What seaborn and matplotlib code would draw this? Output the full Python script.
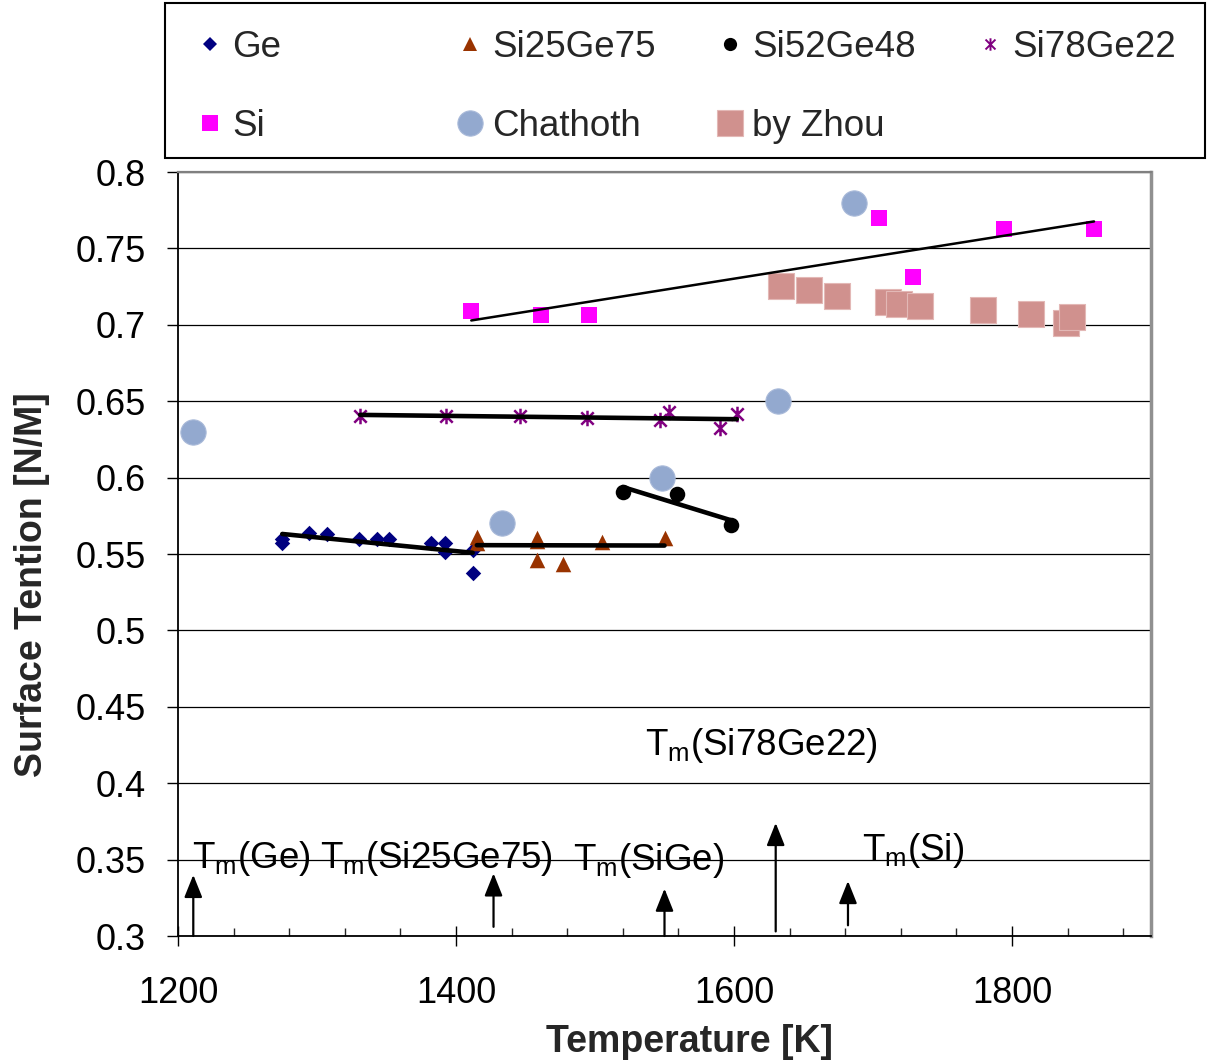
import numpy as np
import pandas as pd
import matplotlib
matplotlib.use("Agg")
import matplotlib.pyplot as plt
import seaborn as sns
from matplotlib.path import Path
from matplotlib.lines import Line2D
from matplotlib.patches import Rectangle

# ---------------- data ----------------
ge_T = [1275, 1275, 1294, 1307, 1330, 1343, 1352, 1382, 1392, 1392, 1412, 1412]
ge_s = [0.560, 0.557, 0.5635, 0.563, 0.5597, 0.5597, 0.5597, 0.5575, 0.5575, 0.5515, 0.5528, 0.5375]

s25_T = [1415, 1415, 1458, 1458, 1458, 1477, 1505, 1550]
s25_s = [0.5614, 0.5575, 0.5605, 0.5585, 0.546, 0.5433, 0.558, 0.5603]

s52_T = [1520, 1559, 1598]
s52_s = [0.5908, 0.589, 0.569]

s78_T = [1331, 1393, 1446, 1494, 1547, 1553, 1590, 1602]
s78_s = [0.6405, 0.6405, 0.6405, 0.6388, 0.6377, 0.6431, 0.6322, 0.6414]

si_T = [1411, 1461, 1496, 1704, 1729, 1794, 1859]
si_s = [0.709, 0.7065, 0.7065, 0.770, 0.731, 0.7625, 0.7625]

cha_T = [1211, 1433, 1548, 1632, 1686]
cha_s = [0.630, 0.570, 0.600, 0.650, 0.780]

zhou_T = [1634, 1654, 1674, 1711, 1719, 1734, 1779, 1814, 1839, 1843]
zhou_s = [0.7256, 0.7228, 0.7188, 0.7151, 0.7136, 0.7125, 0.7097, 0.7071, 0.701, 0.7049]

series_names = ["Ge", "Si25Ge75", "Si52Ge48", "Si78Ge22", "Si", "Chathoth", "by Zhou"]

# melting point arrows: x, start y, end y
arrow_x = [1211, 1427, 1550, 1630, 1682]
arrow_y0 = [0.300, 0.306, 0.300, 0.303, 0.307]
arrow_y1 = [0.340, 0.341, 0.331, 0.374, 0.336]

# melting point labels
label_texts = [r"T$_{\mathrm{m}}$(Ge)", r"T$_{\mathrm{m}}$(Si25Ge75)", r"T$_{\mathrm{m}}$(SiGe)",
               r"T$_{\mathrm{m}}$(Si)", r"T$_{\mathrm{m}}$(Si78Ge22)"]
label_x = [1210, 1302, 1484, 1692, 1536]
label_y = [0.3445, 0.3445, 0.3435, 0.3497, 0.4185]

x_label = "Temperature [K]"
y_label = "Surface Tention [N/M]"

# ---------------- style ----------------
sns.set_theme(style="white")
plt.rcParams["font.family"] = ["Liberation Sans", "DejaVu Sans"]
plt.rcParams["mathtext.fontset"] = "custom"
plt.rcParams["mathtext.rm"] = "Liberation Sans"
plt.rcParams["mathtext.it"] = "Liberation Sans:italic"
plt.rcParams["mathtext.bf"] = "Liberation Sans:bold"

W, H = 1207, 1064
fig = plt.figure(figsize=(W / 100, H / 100), dpi=100)
ax = fig.add_axes([178 / W, 1 - 936 / H, (1151 - 178) / W, (936 - 172) / H])

star = Path([(0, -1), (0, 1), (-0.8, -0.8), (0.8, 0.8), (-0.8, 0.8), (0.8, -0.8)],
            [Path.MOVETO, Path.LINETO] * 3)

c_ge = "#000080"
c_25 = "#993300"
c_52 = "#000000"
c_78 = "#800080"
c_si = "#FF00FF"
c_ch = "#93A9CF"
c_zh = "#D0918E"

styles = {
    "Ge": dict(marker="D", s=62, color=c_ge, edgecolor=c_ge, linewidth=0),
    "Si25Ge75": dict(marker="^", s=125, color=c_25, edgecolor=c_25, linewidth=0),
    "Si52Ge48": dict(marker="o", s=125, color=c_52, edgecolor=c_52, linewidth=0),
    "Si78Ge22": dict(marker=star, s=125, color=c_78, edgecolor=c_78, linewidth=1.8),
    "Si": dict(marker="s", s=118, color=c_si, edgecolor=c_si, linewidth=0),
    "Chathoth": dict(marker="o", s=330, color=c_ch, edgecolor="#A9BAD9", linewidth=0.8),
    "by Zhou": dict(marker="s", s=330, color=c_zh, edgecolor="#E3B8B6", linewidth=0.8),
}
data = {
    "Ge": (ge_T, ge_s), "Si25Ge75": (s25_T, s25_s), "Si52Ge48": (s52_T, s52_s),
    "Si78Ge22": (s78_T, s78_s), "Si": (si_T, si_s), "Chathoth": (cha_T, cha_s),
    "by Zhou": (zhou_T, zhou_s),
}

for name in series_names:
    xs, ys = data[name]
    sns.scatterplot(x=xs, y=ys, ax=ax, zorder=3, legend=False, **styles[name])

# trend lines (linear fits)
for name, lw in [("Ge", 3.3), ("Si25Ge75", 3.3), ("Si52Ge48", 3.3), ("Si78Ge22", 3.3), ("Si", 1.8)]:
    xs, ys = data[name]
    sns.regplot(x=np.array(xs, float), y=np.array(ys, float), ax=ax, scatter=False, ci=None,
                truncate=True, color="black", line_kws=dict(lw=lw, zorder=4, solid_capstyle="round"))

# arrows and labels
for xa, y0, y1 in zip(arrow_x, arrow_y0, arrow_y1):
    ax.annotate("", xy=(xa, y1), xytext=(xa, y0),
                arrowprops=dict(arrowstyle="-|>,head_length=0.55,head_width=0.22", color="black",
                                lw=1.6, mutation_scale=25, shrinkA=0, shrinkB=0), zorder=5)
for t, xt, yt in zip(label_texts, label_x, label_y):
    ax.text(xt, yt, t, ha="left", va="baseline", fontsize=26.5, color="black", zorder=5)

# axes
ax.set_xlim(1200, 1900)
ax.set_ylim(0.3, 0.8)
ax.set_xticks([1200, 1400, 1600, 1800])
ax.set_xticks(np.arange(1200, 1901, 40), minor=True)
ax.set_yticks(np.arange(0.3, 0.8001, 0.05))
ax.set_yticklabels(["0.3", "0.35", "0.4", "0.45", "0.5", "0.55", "0.6", "0.65", "0.7", "0.75", "0.8"])
ax.yaxis.grid(True, color="black", lw=0.9)
ax.xaxis.grid(False)
ax.set_axisbelow(True)

ax.tick_params(axis="y", which="major", direction="out", length=8, width=1, left=True,
               labelsize=26, pad=15, colors="black")
ax.tick_params(axis="x", which="major", direction="inout", length=15, width=1, bottom=True,
               labelsize=26, pad=21, colors="black")
ax.tick_params(axis="x", which="minor", direction="in", length=6, width=1, bottom=True)

for side in ["left", "bottom"]:
    ax.spines[side].set_color("black")
    ax.spines[side].set_linewidth(1.3)
ax.spines["top"].set_color("#808080")
ax.spines["top"].set_linewidth(1.6)
ax.spines["right"].set_color("#909090")
ax.spines["right"].set_linewidth(2.5)

ax.set_xlabel(x_label, fontsize=27, fontweight="bold")
ax.set_ylabel(y_label, fontsize=27, fontweight="bold")
ax.xaxis.set_label_coords((689 - 178) / 973, (936 - 1024) / 764)
ax.yaxis.set_label_coords((50 - 178) / 973, (936 - 585) / 764)

# legend: 4 equal columns in a framed box above the plot
def proxy(name):
    st = styles[name]
    mk = st["marker"]
    ms = np.sqrt(st["s"])
    if name == "Si78Ge22":
        return Line2D([], [], ls="none", marker=mk, markersize=ms * 0.8, color=st["color"],
                      markeredgecolor=st["color"], markeredgewidth=1.4)
    if name in ("Ge", "Si25Ge75", "Si52Ge48"):
        ms = ms * 0.85
    return Line2D([], [], ls="none", marker=mk, markersize=ms, color=st["color"],
                  markeredgecolor=st["edgecolor"], markeredgewidth=st["linewidth"])

cols = [["Ge", "Si"], ["Si25Ge75", "Chathoth"], ["Si52Ge48", "by Zhou"], ["Si78Ge22"]]
fs_leg = 26.5
em = fs_leg * 100 / 72
hl = 1.0
for i, names in enumerate(cols):
    x_anchor = (165 + 260 * i + 45 - hl * em / 2) / W
    y_anchor = 1 - 30 / H
    fig.legend(handles=[proxy(n) for n in names], labels=names, loc="upper left",
               bbox_to_anchor=(x_anchor, y_anchor), bbox_transform=fig.transFigure,
               frameon=False, fontsize=fs_leg, handlelength=hl, handletextpad=0.1,
               labelspacing=1.2, borderpad=0, borderaxespad=0)

fig.add_artist(Rectangle((165 / W, 1 - 158 / H), 1040 / W, 155 / H, transform=fig.transFigure,
                         fill=False, edgecolor="black", linewidth=1.5))

fig.savefig("out.png", dpi=100)
